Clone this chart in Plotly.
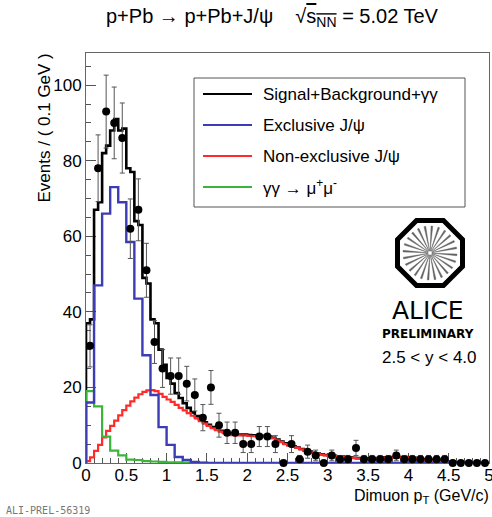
import math
import numpy as np
import plotly.graph_objects as go

# ---------------- data ----------------
BIN_FINE = 0.05   # GeV, bin width of model templates (total, non-exclusive)
BIN_DATA = 0.1    # GeV, bin width of data / exclusive / gamma-gamma

total_fit = [37, 38, 67, 69, 82, 84, 88, 91, 88, 88.5,
             78, 77, 64, 63, 49, 47.5, 38, 37, 30, 26,
             22.5, 21, 18.5, 17.2, 15.8, 14.6, 13.4, 12.4, 11.6, 10.8,
             10.1, 9.5, 9.0, 8.5, 8.1, 7.8, 7.6, 7.5, 7.5, 7.5,
             7.4, 7.3, 7.3, 7.2, 7.2, 7.0, 6.7, 6.2, 5.7, 5.2,
             4.8, 4.4, 4.1, 3.7, 3.3, 3.0, 2.7, 2.5, 2.3, 2.1,
             2.0, 1.9, 1.8, 1.7, 1.6, 1.5, 1.4, 1.3, 1.2, 1.2,
             1.2, 1.2, 1.3, 1.4, 1.5, 1.6, 1.6, 1.6, 1.6, 1.6,
             1.5, 1.4, 1.2, 1.0, 0.9, 0.7, 0.6, 0.5, 0.4, 0.3,
             0.2, 0.1, 0, 0, 0, 0, 0, 0, 0, 0]

non_exclusive = [0.5, 1.5, 3.2, 4.8, 6.8, 8.5, 9.8, 11.2, 12.6, 14.0,
                 15.2, 16.3, 17.3, 18.2, 18.8, 19.2, 19.3, 19.0, 18.3, 17.5,
                 16.8, 16.2, 15.4, 14.6, 13.9, 13.2, 12.5, 11.8, 11.1, 10.4,
                 9.8, 9.2, 8.7, 8.3, 7.9, 7.6, 7.4, 7.3, 7.3, 7.3,
                 7.2, 7.1, 7.1, 7.0, 7.0, 6.8, 6.5, 6.0, 5.5, 5.0,
                 4.6, 4.3, 4.0, 3.6, 3.2, 2.9, 2.6, 2.4, 2.2, 2.0,
                 1.9, 1.8, 1.7, 1.6, 1.5, 1.4, 1.3, 1.2, 1.1, 1.1,
                 1.1, 1.1, 1.2, 1.3, 1.4, 1.5, 1.5, 1.5, 1.5, 1.5,
                 1.4, 1.3, 1.1, 0.9, 0.8, 0.6, 0.5, 0.4, 0.3, 0.2,
                 0.1, 0.05, 0, 0, 0, 0, 0, 0, 0, 0]

exclusive = [16, 47, 66, 73, 69, 58.5, 43.5, 28.5, 18, 9.5,
             4.8, 1.6, 0.8, 0.3, 0.1, 0, 0, 0, 0, 0,
             0, 0, 0, 0, 0, 0, 0, 0, 0, 0,
             0, 0, 0, 0, 0, 0, 0, 0, 0, 0,
             0, 0, 0, 0, 0, 0, 0, 0, 0, 0]

gammagamma = [19, 15, 7, 3.3, 2.0, 0.9, 0.8, 0.5, 0.4, 0.3,
              0.2, 0.2, 0.1, 0.1, 0.05, 0, 0, 0, 0, 0,
              0, 0, 0, 0, 0, 0, 0, 0, 0, 0,
              0, 0, 0, 0, 0, 0, 0, 0, 0, 0,
              0, 0, 0, 0, 0, 0, 0, 0, 0, 0]

data_counts = [31, 78, 93, 90, 86, 62, 67, 51, 32, 25,
               23, 23, 21, 18, 12, 20, 10, 8, 8, 5,
               5, 7, 7, 5, 0, 5, 1, 3, 2, 0,
               2, 1, 1, 4, 1, 1, 1, 1, 2, 1,
               1, 1, 1, 1, 1, 0, 0, 0, 0, 0]

legend_labels = ["Signal+Background+γγ", "Exclusive J/ψ",
                 "Non-exclusive J/ψ", "γγ → μ<sup>+</sup>μ<sup>-</sup>"]
x_ticks = [0, 0.5, 1, 1.5, 2, 2.5, 3, 3.5, 4, 4.5, 5]
y_ticks = [0, 20, 40, 60, 80, 100]

# ---------------- layout geometry ----------------
W, H = 492, 517
ML, MR, MT, MB = 86, 3, 53, 54
PW = W - ML - MR
PH = H - MT - MB
FONT = "Liberation Sans, Arial, Helvetica, sans-serif"


def px(xp):
    return (xp - ML) / PW


def py(yp):
    return (H - MB - yp) / PH


def step_xy(width, vals):
    lows = np.arange(len(vals)) * width
    xs = [0.0] + list(lows) + [len(vals) * width]
    ys = [0.0] + list(vals) + [vals[-1]]
    return xs, ys


C_BLACK = "#000000"
C_BLUE = "#3c3cb4"
C_RED = "#ff2a2a"
C_GREEN = "#3cb43c"

fig = go.Figure()

series = [
    (total_fit, BIN_FINE, C_BLACK, 2.6),
    (non_exclusive, BIN_FINE, C_RED, 2.2),
    (gammagamma, BIN_DATA, C_GREEN, 2.2),
    (exclusive, BIN_DATA, C_BLUE, 2.4),
]
for vals, w, col, lw in series:
    xs, ys = step_xy(w, vals)
    fig.add_trace(go.Scatter(x=xs, y=ys, mode="lines", line_shape="hv",
                             line=dict(color=col, width=lw),
                             cliponaxis=False, showlegend=False,
                             hoverinfo="skip"))

centers = np.arange(len(data_counts)) * BIN_DATA + BIN_DATA / 2
errs = np.sqrt(np.array(data_counts, dtype=float))
fig.add_trace(go.Scatter(x=centers, y=data_counts, mode="markers",
                         marker=dict(color="black", size=8),
                         error_y=dict(type="data", array=errs, visible=True,
                                      color="#555555", thickness=1, width=2.5),
                         cliponaxis=False, showlegend=False))

shapes = []
annotations = []

# legend box
shapes.append(dict(type="rect", xref="paper", yref="paper",
                   x0=px(194), x1=px(465), y0=py(207), y1=py(78),
                   line=dict(color="#555555", width=1), fillcolor="white",
                   layer="above"))
rows = [94, 125, 156, 187]
for row, lab, col in zip(rows, legend_labels, [C_BLACK, C_BLUE, C_RED, C_GREEN]):
    shapes.append(dict(type="line", xref="paper", yref="paper",
                       x0=px(203), x1=px(252), y0=py(row), y1=py(row),
                       line=dict(color=col, width=2.2), layer="above"))
    annotations.append(dict(xref="paper", yref="paper", x=px(261), y=py(row),
                            xanchor="left", yanchor="middle", showarrow=False,
                            text=lab, font=dict(family=FONT, size=17, color="black")))

# ALICE logo
cx, cy = 430, 253
apo = 32.5
rv = apo / math.cos(math.pi / 8)
pts = []
for k in range(8):
    a = math.pi / 8 + k * math.pi / 4
    pts.append((px(cx + rv * math.cos(a)), py(cy + rv * math.sin(a))))
path = "M " + " L ".join(f"{x:.5f},{y:.5f}" for x, y in pts) + " Z"
shapes.append(dict(type="path", xref="paper", yref="paper", path=path,
                   line=dict(color="black", width=5), layer="above"))
spokes = []
nsp = 24
for k in range(nsp):
    a = 2 * math.pi * k / nsp + 0.07
    r0, r1, da = 2.0, 27.0, 0.032
    p0 = (px(cx + r0 * math.cos(a)), py(cy + r0 * math.sin(a)))
    p1 = (px(cx + r1 * math.cos(a - da)), py(cy + r1 * math.sin(a - da)))
    p2 = (px(cx + r1 * math.cos(a + da)), py(cy + r1 * math.sin(a + da)))
    spokes.append(f"M {p0[0]:.5f},{p0[1]:.5f} L {p1[0]:.5f},{p1[1]:.5f} L {p2[0]:.5f},{p2[1]:.5f} Z")
shapes.append(dict(type="path", xref="paper", yref="paper", path=" ".join(spokes),
                   line=dict(color="#555555", width=0.4), fillcolor="#666666",
                   layer="above"))

annotations += [
    dict(xref="paper", yref="paper", x=px(428), y=py(310), showarrow=False,
         xanchor="center", yanchor="middle", text="ALICE",
         font=dict(family="DejaVu Sans", size=25, color="black")),
    dict(xref="paper", yref="paper", x=px(428), y=py(334), showarrow=False,
         xanchor="center", yanchor="middle", text="<b>PRELIMINARY</b>",
         font=dict(family="DejaVu Sans", size=12, color="black")),
    dict(xref="paper", yref="paper", x=px(429), y=py(357), showarrow=False,
         xanchor="center", yanchor="middle", text="2.5 &lt; y &lt; 4.0",
         font=dict(family=FONT, size=17, color="black")),
    # title
    dict(xref="paper", yref="paper", x=px(272), y=py(18), showarrow=False,
         xanchor="center", yanchor="middle",
         text="p+Pb → p+Pb+J/ψ\u00a0\u00a0\u00a0 √<span style='text-decoration:overline'>s<sub>NN</sub></span> = 5.02 TeV",
         font=dict(family=FONT, size=20, color="black")),
    # axis titles
    dict(xref="paper", yref="paper", x=px(44), y=py(52), showarrow=False,
         xanchor="center", yanchor="top", textangle=-90,
         text="Events / ( 0.1 GeV )",
         font=dict(family=FONT, size=17, color="black")),
    dict(xref="paper", yref="paper", x=px(491), y=py(496), showarrow=False,
         xanchor="right", yanchor="middle",
         text="Dimuon p<sub>T</sub> (GeV/c)",
         font=dict(family=FONT, size=16, color="black")),
    # footer
    dict(xref="paper", yref="paper", x=px(4), y=py(510), showarrow=False,
         xanchor="left", yanchor="middle", text="ALI-PREL-56319",
         font=dict(family="DejaVu Sans Mono", size=10, color="#777777")),
]

axis_common = dict(showgrid=False, zeroline=False, showline=True,
                   linecolor="#666666", linewidth=1, mirror=True,
                   ticks="inside", ticklen=10, tickwidth=1, tickcolor="#555555",
                   tickfont=dict(family=FONT, size=17, color="black"),
                   layer="below traces", automargin=False)

fig.update_layout(
    width=W, height=H, autosize=False,
    margin=dict(l=ML, r=MR, t=MT, b=MB, pad=0),
    paper_bgcolor="white", plot_bgcolor="white",
    xaxis=dict(range=[0, 5], tickvals=x_ticks,
               ticktext=[f"{v:g}" for v in x_ticks],
               ticklabelstandoff=-3, ticklabeloverflow="allow",
               minor=dict(dtick=0.1, tick0=0, ticks="inside", ticklen=5,
                          tickcolor="#555555", showgrid=False),
               **axis_common),
    yaxis=dict(range=[0, 108.5], tickvals=y_ticks,
               ticktext=[str(v) for v in y_ticks],
               minor=dict(dtick=5, tick0=0, ticks="inside", ticklen=5,
                          tickcolor="#555555", showgrid=False),
               **axis_common),
    shapes=shapes, annotations=annotations, showlegend=False,
)

fig.write_html("out.html")
